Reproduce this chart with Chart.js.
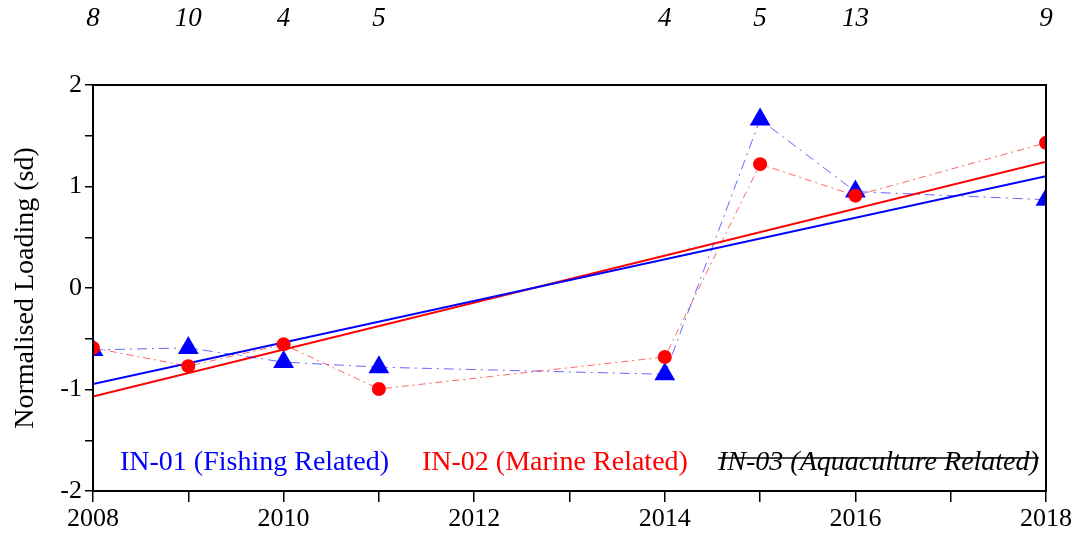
<!DOCTYPE html>
<html>
<head>
<meta charset="utf-8">
<script src="https://cdn.jsdelivr.net/npm/chart.js@4"></script>
<style>
  html, body { margin: 0; padding: 0; background: #fff; }
  #wrap { width: 1082px; height: 538px; }
</style>
</head>
<body>
<div id="wrap"><canvas id="chart" width="1082" height="538"></canvas></div>
<script>
const years = [2008, 2009, 2010, 2011, 2014, 2015, 2016, 2018];
const counts = [8, 10, 4, 5, 4, 5, 13, 9];
const fishing = [-0.61, -0.59, -0.73, -0.78, -0.85, 1.66, 0.95, 0.87];
const marine = [-0.59, -0.77, -0.555, -0.995, -0.68, 1.22, 0.91, 1.43];
const trendYears = [2008, 2018];
const fishingTrend = [-0.946, 1.10];
const marineTrend = [-1.07, 1.245];
const legendLabels = ['IN-01 (Fishing Related)', 'IN-02 (Marine Related)', 'IN-03 (Aquaculture Related)'];

const serif = "'Liberation Serif', 'Times New Roman', serif";
const toXY = (xs, ys) => xs.map((x, i) => ({ x: x, y: ys[i] }));

// box frame + in-plot legend text
const framePlugin = {
    id: 'frame',
    afterDraw(chart) {
        const { ctx, chartArea: a } = chart;
        ctx.save();
        ctx.strokeStyle = '#000';
        ctx.lineWidth = 2;
        ctx.strokeRect(a.left, a.top, a.right - a.left, a.bottom - a.top);

        const y = 470;
        ctx.textBaseline = 'alphabetic';
        ctx.font = '28px ' + serif;
        ctx.fillStyle = '#0000ff';
        ctx.fillText(legendLabels[0], 120, y);
        ctx.fillStyle = '#ff0000';
        ctx.fillText(legendLabels[1], 422, y);
        ctx.font = 'italic 28px ' + serif;
        ctx.fillStyle = '#000';
        ctx.fillText(legendLabels[2], 718, y);
        const w = ctx.measureText(legendLabels[2]).width;
        ctx.lineWidth = 1.5;
        ctx.beginPath();
        ctx.moveTo(718, y - 12);
        ctx.lineTo(718 + w, y - 12);
        ctx.stroke();
        ctx.restore();
    }
};

new Chart(document.getElementById('chart').getContext('2d'), {
    type: 'line',
    data: {
        datasets: [
            {
                label: 'IN-01 trend', data: toXY(trendYears, fishingTrend),
                borderColor: '#0000ff', borderWidth: 2, pointRadius: 0, fill: false, order: 3
            },
            {
                label: 'IN-02 trend', data: toXY(trendYears, marineTrend),
                borderColor: '#ff0000', borderWidth: 2, pointRadius: 0, fill: false, order: 3
            },
            {
                label: legendLabels[0], data: toXY(years, fishing),
                borderColor: 'rgba(0,0,255,0.6)', borderWidth: 1, borderDash: [10, 5, 2, 5],
                pointStyle: 'triangle', pointRadius: 12, pointBackgroundColor: '#0000ff',
                pointBorderColor: '#0000ff', pointBorderWidth: 0, fill: false, order: 2
            },
            {
                label: legendLabels[1], data: toXY(years, marine),
                borderColor: 'rgba(255,0,0,0.6)', borderWidth: 1, borderDash: [7, 4, 2, 4],
                pointStyle: 'circle', pointRadius: 7, pointBackgroundColor: '#ff0000',
                pointBorderColor: '#ff0000', pointBorderWidth: 0, fill: false, order: 1
            }
        ]
    },
    options: {
        responsive: false,
        animation: false,
        layout: { padding: { left: 0, right: 36, top: 0, bottom: 0 } },
        plugins: { legend: { display: false }, tooltip: { enabled: false } },
        scales: {
            x: {
                type: 'linear', position: 'bottom', min: 2008, max: 2018,
                afterFit: s => { s.height = 47; s.paddingLeft = 0; s.paddingRight = 0; },
                border: { display: false },
                grid: { drawOnChartArea: false, color: '#000', lineWidth: 1.5, tickLength: 11 },
                ticks: {
                    stepSize: 1, autoSkip: false, maxRotation: 0, padding: 2, color: '#000',
                    font: { family: serif, size: 26 },
                    callback: v => (v % 2 === 0 ? String(v) : '')
                }
            },
            xTop: {
                type: 'linear', position: 'top', min: 2008, max: 2018,
                afterFit: s => { s.height = 85; s.paddingLeft = 0; s.paddingRight = 0; },
                border: { display: false },
                grid: { display: false, drawTicks: false },
                ticks: {
                    stepSize: 1, autoSkip: false, maxRotation: 0, padding: 50, color: '#000',
                    font: { family: serif, size: 27, style: 'italic' },
                    callback: v => {
                        const i = years.indexOf(v);
                        return i >= 0 ? String(counts[i]) : '';
                    }
                }
            },
            y: {
                min: -2, max: 2,
                afterFit: s => { s.width = 93; },
                border: { display: false },
                grid: { drawOnChartArea: false, color: '#000', lineWidth: 1.5, tickLength: 8 },
                title: {
                    display: true, text: 'Normalised Loading (sd)', color: '#000',
                    font: { family: serif, size: 28 }, padding: { top: 9, bottom: 0 }
                },
                ticks: {
                    stepSize: 0.5, padding: 3, color: '#000',
                    font: { family: serif, size: 26 },
                    callback: v => (Number.isInteger(v) ? String(v) : '')
                }
            }
        }
    },
    plugins: [framePlugin]
});
</script>
</body>
</html>
